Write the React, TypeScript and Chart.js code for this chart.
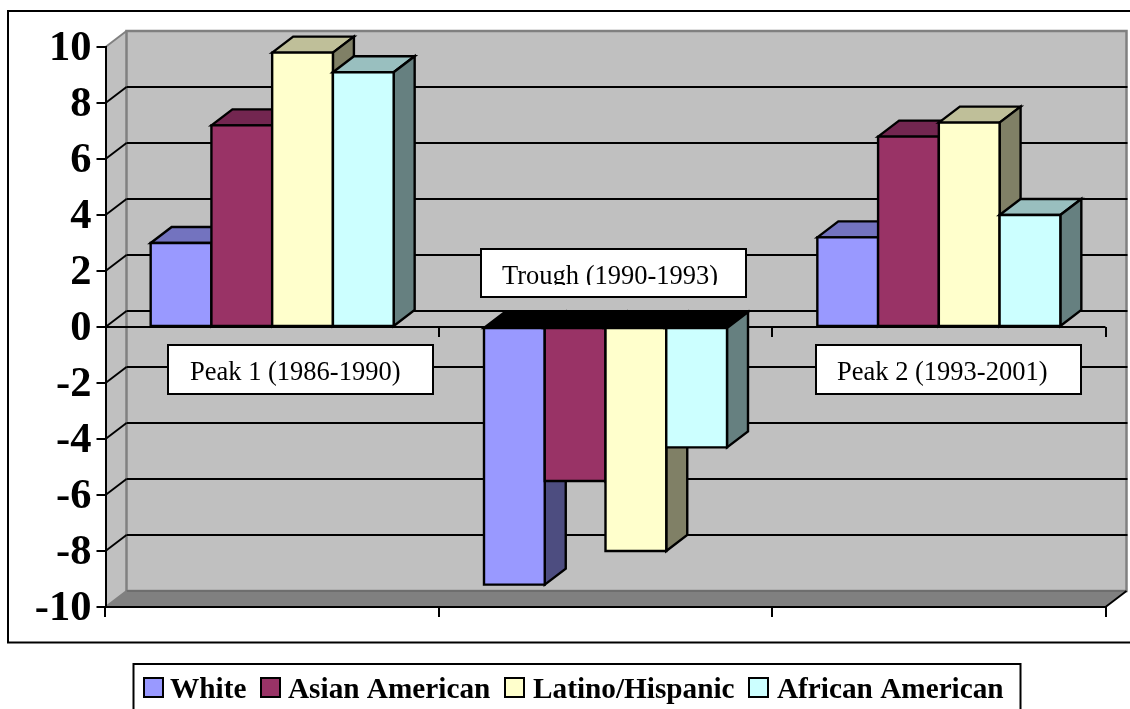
import React, { useEffect, useRef } from "react";
import { Chart, registerables } from "chart.js";

Chart.register(...registerables);

const categories = ["Peak 1 (1986-1990)", "Trough (1990-1993)", "Peak 2 (1993-2001)"];
const seriesNames = ["White", "Asian American", "Latino/Hispanic", "African American"];
const white = [3.0, -9.2, 3.2];
const asian = [7.2, -5.5, 6.8];
const latino = [9.8, -8.0, 7.3];
const african = [9.1, -4.3, 4.0];
const yMin = -10;
const yMax = 10;
const yStep = 2;

const front = ["#9999ff", "#993366", "#ffffcc", "#ccffff"];
const topFace = ["#7373bf", "#732650", "#bfbf99", "#99bfbf"];
const sideFace = ["#4d4d80", "#4d1a33", "#808066", "#668080"];
const seriesValues = [white, asian, latino, african];

const DX = 21;
const DY = -16;
const SERIF = "'Liberation Serif'";

const boxes = [
  { dx: 28, top: 345, h: 49, w: 265, tx: 22, base: 380, clip: 387 },
  { dx: 7.5, top: 249, h: 48, w: 265, tx: 21, base: 284, clip: 285 },
  { dx: 10, top: 345, h: 49, w: 265, tx: 21, base: 380, clip: 387 },
];
const legendPos = [
  { s: 144, t: 170 },
  { s: 261, t: 288 },
  { s: 505, t: 533 },
  { s: 749, t: 777 },
];

function poly(ctx: CanvasRenderingContext2D, pts: number[][], fill?: string, stroke?: string, lw = 2) {
  ctx.beginPath();
  pts.forEach((p, i) => (i ? ctx.lineTo(p[0], p[1]) : ctx.moveTo(p[0], p[1])));
  ctx.closePath();
  if (fill) {
    ctx.fillStyle = fill;
    ctx.fill();
  }
  if (stroke) {
    ctx.strokeStyle = stroke;
    ctx.lineWidth = lw;
    ctx.lineJoin = "miter";
    ctx.stroke();
  }
}

function line(ctx: CanvasRenderingContext2D, x1: number, y1: number, x2: number, y2: number, color = "#000", lw = 2) {
  ctx.beginPath();
  ctx.moveTo(x1, y1);
  ctx.lineTo(x2, y2);
  ctx.strokeStyle = color;
  ctx.lineWidth = lw;
  ctx.stroke();
}

const scene3d = {
  id: "scene3d",
  beforeDraw(chart: any) {
    const { ctx, chartArea: a, width, height } = chart;
    ctx.save();
    ctx.fillStyle = "#fff";
    ctx.fillRect(0, 0, width, height);
    ctx.strokeStyle = "#000";
    ctx.lineWidth = 2;
    ctx.strokeRect(8, 11, width + 20, 631.5);
    const L = a.left, R = a.right, T = a.top, B = a.bottom;
    poly(ctx, [[L, T], [L + DX, T + DY], [L + DX, B + DY], [L, B]], "#c0c0c0");
    poly(ctx, [[L + DX, T + DY], [R + DX, T + DY], [R + DX, B + DY], [L + DX, B + DY]], "#c0c0c0", "#808080", 2.5);
    poly(ctx, [[L, B], [L + DX, B + DY], [R + DX, B + DY], [R, B]], "#808080");
    line(ctx, L + DX, B + DY, R + DX, B + DY, "#6e6e6e");
    line(ctx, L, T, L + DX, T + DY, "#808080");
    line(ctx, L, B, L + DX, B + DY, "#808080");
    line(ctx, R, B, R + DX, B + DY, "#000");
    ctx.restore();
  },
  beforeDatasetsDraw(chart: any) {
    const { ctx, chartArea: a, scales } = chart;
    const y = scales.y;
    const x = scales.x;
    ctx.save();
    y.ticks.forEach((t: any) => {
      if (t.value === yMin || t.value === yMax) return;
      const py = Math.round(y.getPixelForValue(t.value));
      line(ctx, a.left, py, a.left + DX, py + DY);
      line(ctx, a.left + DX, py + DY, a.right + DX + 1, py + DY);
    });
    const zero = Math.round(y.getPixelForValue(0));
    line(ctx, a.left, zero, a.right, zero);
    categories.forEach((_, i) => {
      const px = Math.round(x.getPixelForValue(i) + (x.width / categories.length) / 2);
      line(ctx, px, zero, px, zero + 10);
    });
    chart.data.datasets.forEach((_: any, di: number) => {
      const meta = chart.getDatasetMeta(di);
      meta.data.forEach((bar: any) => {
        const p = bar.getProps(["x", "y", "base", "width"]);
        const l = p.x - p.width / 2;
        const r = p.x + p.width / 2;
        const hi = Math.min(p.y, p.base);
        const lo = Math.max(p.y, p.base);
        const neg = p.y > p.base;
        poly(ctx, [[l, hi], [l + DX, hi + DY], [r + DX, hi + DY], [r, hi]], neg ? "#000" : topFace[di], "#000", 2.4);
        poly(ctx, [[r, hi], [r + DX, hi + DY], [r + DX, lo + DY], [r, lo]], sideFace[di], "#000", 2.4);
      });
      meta.controller.draw();
      meta.data.forEach((bar: any) => {
        const p = bar.getProps(["x", "y", "base", "width"]);
        const l = p.x - p.width / 2;
        const r = p.x + p.width / 2;
        poly(ctx, [[l, p.y], [r, p.y], [r, p.base], [l, p.base]], undefined, "#000", 2.4);
      });
    });
    ctx.restore();
  },
  beforeDatasetDraw() {
    return false;
  },
  afterDraw(chart: any) {
    const { ctx, scales, data } = chart;
    const x = scales.x;
    ctx.save();
    categories.forEach((label, i) => {
      const b = boxes[i];
      const left = Math.round(x.getPixelForValue(i) + b.dx - b.w / 2);
      ctx.fillStyle = "#fff";
      ctx.fillRect(left, b.top, b.w, b.h);
      ctx.strokeStyle = "#000";
      ctx.lineWidth = 2;
      ctx.strokeRect(left, b.top, b.w, b.h);
      ctx.save();
      ctx.beginPath();
      ctx.rect(left, b.top, b.w, b.clip - b.top);
      ctx.clip();
      ctx.fillStyle = "#000";
      ctx.font = `26.5px ${SERIF}`;
      ctx.textBaseline = "alphabetic";
      ctx.textAlign = "left";
      ctx.fillText(label, left + b.tx, b.base);
      ctx.restore();
    });
    ctx.fillStyle = "#fff";
    ctx.fillRect(133.5, 664, 887, 60);
    ctx.strokeStyle = "#000";
    ctx.lineWidth = 2;
    ctx.strokeRect(133.5, 664, 887, 60);
    data.datasets.forEach((ds: any, i: number) => {
      const p = legendPos[i];
      ctx.fillStyle = front[i];
      ctx.fillRect(p.s, 678, 19, 19);
      ctx.strokeStyle = "#000";
      ctx.lineWidth = 2;
      ctx.strokeRect(p.s, 678, 19, 19);
      ctx.fillStyle = "#000";
      ctx.font = `bold 29.25px ${SERIF}`;
      ctx.textBaseline = "alphabetic";
      ctx.textAlign = "left";
      ctx.fillText(ds.label, p.t, 697.5);
    });
    ctx.restore();
  },
};

export default function App() {
  const ref = useRef<HTMLCanvasElement>(null);
  useEffect(() => {
    document.body.style.margin = "0";
    const chart = new Chart(ref.current as HTMLCanvasElement, {
      type: "bar",
      data: {
        labels: categories,
        datasets: seriesNames.map((name, i) => ({
          label: name,
          data: seriesValues[i],
          backgroundColor: front[i],
          borderWidth: 0,
          categoryPercentage: 0.729,
          barPercentage: 1,
        })),
      },
      options: {
        responsive: false,
        animation: false,
        layout: { padding: { top: 47, right: 24.5, left: 0, bottom: 0 } },
        plugins: { legend: { display: false }, title: { display: false }, tooltip: { enabled: false } },
        scales: {
          x: {
            grid: { display: true, drawOnChartArea: false, drawTicks: true, tickLength: 10, color: "#000", lineWidth: 2, offset: true },
            border: { display: true, color: "#000", width: 2 },
            ticks: { display: false },
            afterFit: (s: any) => {
              s.height = 102;
            },
          },
          y: {
            min: yMin,
            max: yMax,
            grid: { display: true, drawOnChartArea: false, drawTicks: true, tickLength: 9, color: "#000", lineWidth: 2 },
            border: { display: true, color: "#000", width: 2 },
            ticks: {
              stepSize: yStep,
              padding: 5,
              labelOffset: 2,
              color: "#000",
              font: { family: SERIF, size: 42.5, weight: "bold" },
            },
            afterFit: (s: any) => {
              s.width = 105.5;
            },
          },
        },
      },
      plugins: [scene3d],
    } as any);
    return () => chart.destroy();
  }, []);
  return <canvas ref={ref} width={1130} height={709} style={{ display: "block", position: "absolute", left: 0, top: 0 }} />;
}
